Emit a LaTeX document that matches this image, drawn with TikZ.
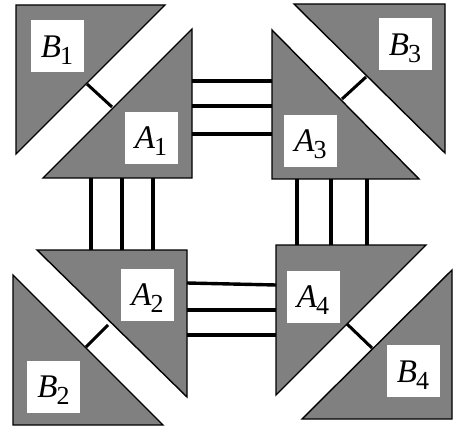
\documentclass[tikz,border=0pt]{standalone}
\usepackage{fontspec}
\setmainfont{Liberation Serif}
\usepackage{tikz}
\usetikzlibrary{calc}
\colorlet{colPrism}{black!50}
\newcommand{\prismlbl}[2]{\textit{#1}\kern-1pt\raisebox{-7pt}{\fontsize{26}{30}\selectfont #2}}
\tikzset{
	prism/.style={draw, fill=colPrism, line width=1.4pt, line join=miter},
	lblbox/.style={fill=white, inner sep=0pt, minimum width=53pt, text height=37pt, text depth=15pt, font=\fontsize{33}{38}\selectfont},
	busline/.style={line width=3.4pt},
	bridgeline/.style={line width=3pt},
}
\begin{document}
\begin{tikzpicture}[x=1pt, y=-1pt]
	\useasboundingbox (0,0) rectangle (454,427);
	% prisms
	\draw[prism] (16,5) -- (165,5) -- (16,154) -- cycle;
	\draw[prism] (43,178) -- (192,178) -- (192,29) -- cycle;
	\draw[prism] (294,4) -- (445,4) -- (445,153) -- cycle;
	\draw[prism] (272,30) -- (272,179) -- (419,179) -- cycle;
	\draw[prism] (37,250) -- (187,250) -- (187,397) -- cycle;
	\draw[prism] (13,275) -- (13,425) -- (163,425) -- cycle;
	\draw[prism] (276,245) -- (426,245) -- (276,395) -- cycle;
	\draw[prism] (452,270) -- (452,419) -- (302,419) -- cycle;
	% labels
	\node[lblbox] (b1) at (57,46.5) {\prismlbl{B}{1}};
	\node[lblbox] (a1) at (151,138) {\prismlbl{A}{1}};
	\node[lblbox] (b3) at (405,44.5) {\prismlbl{B}{3}};
	\node[lblbox] (a3) at (310.5,141) {\prismlbl{A}{3}};
	\node[lblbox] (a2) at (147.5,294.5) {\prismlbl{A}{2}};
	\node[lblbox] (b2) at (53.5,386.5) {\prismlbl{B}{2}};
	\node[lblbox] (a4) at (313,296.5) {\prismlbl{A}{4}};
	\node[lblbox] (b4) at (413,371) {\prismlbl{B}{4}};
	% bridges between A and B
	\coordinate (b1e) at (87,84);   \coordinate (a1e) at (112,107);
	\coordinate (b3e) at (366,77);  \coordinate (a3e) at (342,99);
	\coordinate (a2e) at (108,325); \coordinate (b2e) at (86,347);
	\coordinate (a4e) at (347,324); \coordinate (b4e) at (372,348);
	\draw[bridgeline] (b1e) -- (a1e);
	\draw[bridgeline] (b3e) -- (a3e);
	\draw[bridgeline] (a2e) -- (b2e);
	\draw[bridgeline] (a4e) -- (b4e);
	% buses between A prisms
	\foreach \y in {81,106,134}
		\draw[busline] (192,\y) -- (272,\y);
	\foreach \x in {91,122,153}
		\draw[busline] (\x,178) -- (\x,250);
	\foreach \x in {297,331,367}
		\draw[busline] (\x,179) -- (\x,245);
	\draw[busline] (187,283) -- (276,285);
	\foreach \y in {310,335}
		\draw[busline] (187,\y) -- (276,\y);
\end{tikzpicture}
\end{document}
